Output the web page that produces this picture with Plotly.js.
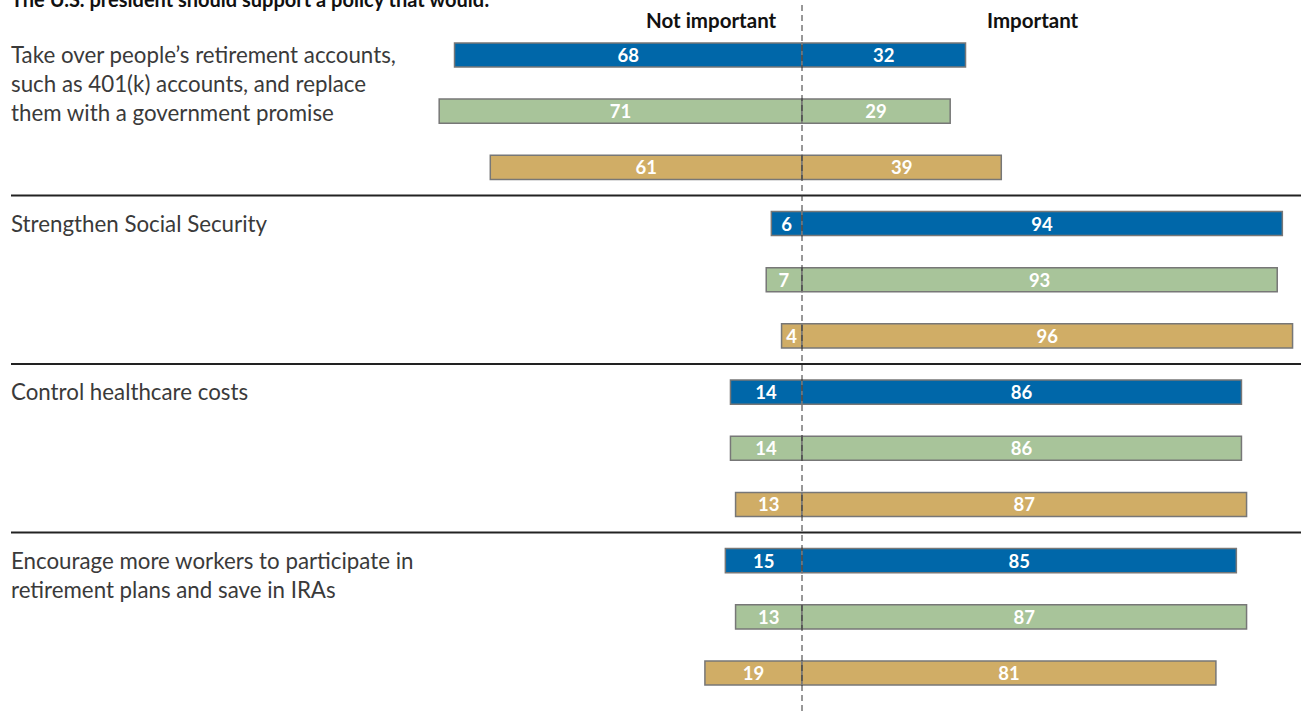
<!DOCTYPE html>
<html>
<head>
<meta charset="utf-8">
<script src="https://cdn.plot.ly/plotly-3.0.1.min.js"></script>
<style>html,body{margin:0;padding:0;background:#fff;}#chart{width:1301px;height:711px;}</style>
</head>
<body>
<div id="chart"></div>
<script>
// ---- Data ----
const policies = [
  "Take over people’s retirement accounts,<br>such as 401(k) accounts, and replace<br>them with a government promise",
  "Strengthen Social Security",
  "Control healthcare costs",
  "Encourage more workers to participate in<br>retirement plans and save in IRAs"
];
const seriesNames = ["Series 1", "Series 2", "Series 3"];
const seriesColors = ["#0067A9", "#A8C49A", "#D0AD66"];
const notImportant1 = [68, 6, 14, 15];
const notImportant2 = [71, 7, 14, 13];
const notImportant3 = [61, 4, 13, 19];
const important1 = [32, 94, 86, 85];
const important2 = [29, 93, 86, 87];
const important3 = [39, 96, 87, 81];
const headerLeft = "Not important";
const headerRight = "Important";
const chartTitle = "The U.S. president should support a policy that would:";

const notImp = [notImportant1, notImportant2, notImportant3];
const imp = [important1, important2, important3];
const nSeries = 3;

const traces = [];
for (let s = 0; s < nSeries; s++) {
  const ys = policies.map((p, g) => g * nSeries + s);
  const common = {
    type: 'bar', orientation: 'h', y: ys, width: 0.43,
    marker: {color: seriesColors[s], line: {color: '#777777', width: 1.5}},
    textposition: 'inside', insidetextanchor: 'middle', constraintext: 'none', textangle: 0,
    textfont: {color: '#ffffff', size: 18.5, family: 'Lato, sans-serif', weight: 'bold'},
    hoverinfo: 'skip', showlegend: false, name: seriesNames[s]
  };
  traces.push(Object.assign({}, common, {
    x: notImp[s].map(v => -v), text: notImp[s].map(String)
  }));
  traces.push(Object.assign({}, common, {
    x: imp[s], text: imp[s].map(String)
  }));
}

const annotations = [];
policies.forEach((p, g) => {
  annotations.push({
    xref: 'paper', yref: 'y', x: 9/1301, y: g * nSeries, xanchor: 'left', yanchor: 'top',
    yshift: 16, align: 'left', showarrow: false, text: p,
    font: {family: 'Lato, sans-serif', size: 22.3, color: '#3a3a3a'}
  });
});
annotations.push({
  xref: 'paper', yref: 'paper', x: 9/1301, y: 1, xanchor: 'left', yanchor: 'bottom',
  yshift: -13, showarrow: false, text: '<b>' + chartTitle + '</b>',
  font: {family: 'Lato, sans-serif', size: 20, color: '#111111'}
});
annotations.push({
  xref: 'paper', yref: 'paper', x: 779/1301, y: 1, xanchor: 'right', yanchor: 'top',
  yshift: -6, showarrow: false, text: '<b>' + headerLeft + '</b>',
  font: {family: 'Lato, sans-serif', size: 20.5, color: '#111111'}
});
annotations.push({
  xref: 'paper', yref: 'paper', x: 985/1301, y: 1, xanchor: 'left', yanchor: 'top',
  yshift: -6, showarrow: false, text: '<b>' + headerRight + '</b>',
  font: {family: 'Lato, sans-serif', size: 20.5, color: '#111111'}
});

const shapes = [];
for (let g = 1; g < policies.length; g++) {
  shapes.push({
    type: 'line', xref: 'paper', yref: 'y', x0: 11/1301, x1: 1,
    y0: g * nSeries - 0.5, y1: g * nSeries - 0.5,
    line: {color: '#222222', width: 2}
  });
}
shapes.push({
  type: 'line', xref: 'x', yref: 'paper', x0: 0, x1: 0, y0: 0, y1: 0.993,
  line: {color: '#333333', width: 1, dash: '6px,4px'}
});

const k = 5.11;
const layout = {
  width: 1301, height: 711,
  margin: {l: 0, r: 0, t: 0, b: 0, pad: 0},
  paper_bgcolor: '#ffffff', plot_bgcolor: '#ffffff',
  barmode: 'relative',
  xaxis: {range: [-802 / k, 499 / k], showgrid: false, zeroline: false, showticklabels: false, fixedrange: true},
  yaxis: {range: [11 + 38 / 56.2, -55 / 56.2], showgrid: false, zeroline: false, showticklabels: false, fixedrange: true},
  annotations: annotations,
  shapes: shapes,
  showlegend: false
};

Plotly.newPlot('chart', traces, layout, {displayModeBar: false, staticPlot: true});
</script>
</body>
</html>
